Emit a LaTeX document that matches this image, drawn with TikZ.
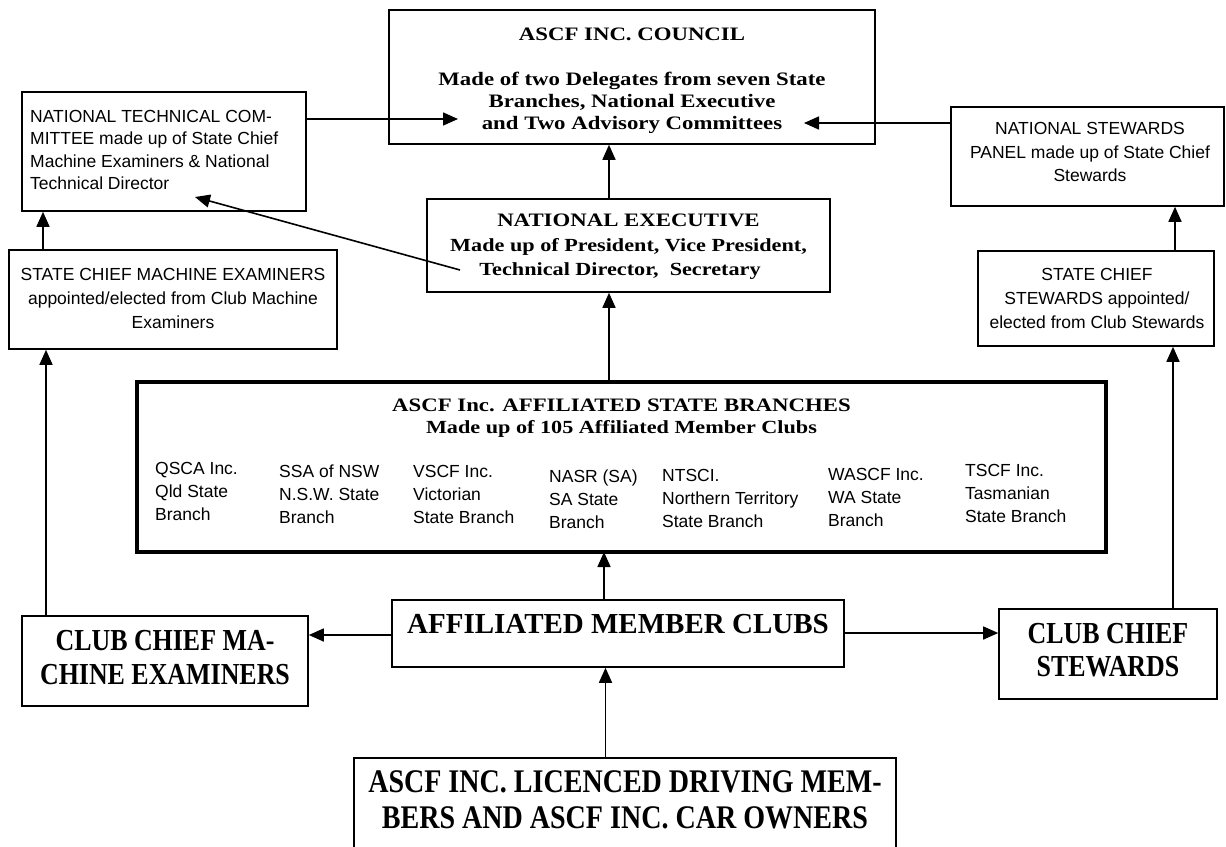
\documentclass[tikz,border=0pt]{standalone}
\usepackage{fontspec}
\setmainfont{Liberation Serif}
\newfontfamily\arialf{Liberation Sans}
\newfontfamily\wideserif{Liberation Serif}[FakeStretch=1.2]
\newfontfamily\condserif{Liberation Serif}[FakeStretch=0.85]
\usetikzlibrary{arrows.meta}
\tikzset{
  box/.style={draw, line width=1.6pt, rectangle, inner sep=0pt},
  thickbox/.style={draw, line width=4pt, rectangle, inner sep=0pt},
  arr/.style={line width=1.6pt, -{Triangle[length=15pt,width=13pt]}},
  sans/.style={inner sep=0pt, font=\arialf\fontsize{17.5}{21}\selectfont},
  ser/.style={inner sep=0pt, font=\wideserif\bfseries\fontsize{19}{23}\selectfont},
  sersm/.style={inner sep=0pt, font=\wideserif\bfseries\fontsize{18.5}{22}\selectfont},
  big/.style={inner sep=0pt, font=\bfseries\fontsize{29}{33}\selectfont},
  cond/.style={inner sep=0pt, font=\condserif\bfseries\fontsize{30.5}{34}\selectfont},
  condbig/.style={inner sep=0pt, font=\condserif\bfseries\fontsize{33}{37}\selectfont}
}
\begin{document}
\begin{tikzpicture}[x=1pt,y=-1pt]
\path[use as bounding box] (0,0) rectangle (1226,846);
\clip (0,0) rectangle (1226,846);

% boxes
\node[box, minimum width=486pt, minimum height=134pt] (council) at (632,77) {};
\node[box, minimum width=284pt, minimum height=119pt] (ntc) at (164,151.5) {};
\node[box, minimum width=273pt, minimum height=99pt] (nsp) at (1087.5,156.5) {};
\node[box, minimum width=403pt, minimum height=93pt] (ne) at (628.5,245.5) {};
\node[box, minimum width=328pt, minimum height=99pt] (scme) at (173,299.5) {};
\node[box, minimum width=236pt, minimum height=95pt] (scs) at (1096,298.5) {};
\node[thickbox, minimum width=969pt, minimum height=170pt] (asb) at (621.5,467) {};
\node[box, minimum width=452pt, minimum height=67pt] (amc) at (618,633.5) {};
\node[box, minimum width=286pt, minimum height=90pt] (ccme) at (165,661) {};
\node[box, minimum width=218pt, minimum height=90pt] (ccs) at (1108,654) {};
\node[box, minimum width=542pt, minimum height=112pt] (lic) at (625,814) {};

% council text
\node[ser, anchor=base] (c1) at (632,40) {ASCF INC. COUNCIL};
\node[ser, anchor=base] (c2) at (632,85) {Made of two Delegates from seven State};
\node[ser, anchor=base] (c3) at (632,107) {Branches, National Executive};
\node[ser, anchor=base] (c4) at (632,129) {and Two Advisory Committees};

% national technical committee
\node[sans, anchor=base west] (t1) at (30,122) {NATIONAL TECHNICAL COM-};
\node[sans, anchor=base west] (t2) at (30,144.5) {MITTEE made up of State Chief};
\node[sans, anchor=base west] (t3) at (30,167) {Machine Examiners \& National};
\node[sans, anchor=base west] (t4) at (30,189.5) {Technical Director};

% national stewards panel
\node[sans, anchor=base] (p1) at (1090,134) {NATIONAL STEWARDS};
\node[sans, anchor=base] (p2) at (1090,158) {PANEL made up of State Chief};
\node[sans, anchor=base] (p3) at (1090,181) {Stewards};

% national executive
\node[ser, anchor=base] (e1) at (628.5,226) {NATIONAL EXECUTIVE};
\node[sersm, anchor=base] (e2) at (628.5,251) {Made up of President, Vice President,};
\node[sersm, anchor=base] (e3) at (620,275) {Technical Director,\ \ Secretary};

% state chief machine examiners
\node[sans, anchor=base] (m1) at (173,280) {STATE CHIEF MACHINE EXAMINERS};
\node[sans, anchor=base] (m2) at (173,304) {appointed/elected from Club Machine};
\node[sans, anchor=base] (m3) at (173,328) {Examiners};

% state chief stewards
\node[sans, anchor=base] (s1) at (1097,280) {STATE CHIEF};
\node[sans, anchor=base] (s2) at (1097,304) {STEWARDS appointed/};
\node[sans, anchor=base] (s3) at (1097,328) {elected from Club Stewards};

% affiliated state branches
\node[ser, anchor=base] (b1) at (621.5,411) {ASCF Inc. AFFILIATED STATE BRANCHES};
\node[sersm, anchor=base] (b2) at (621.5,433) {Made up of 105 Affiliated Member Clubs};

\node[sans, anchor=base west] (q1) at (155,474) {QSCA Inc.};
\node[sans, anchor=base west] (q2) at (155,497) {Qld State};
\node[sans, anchor=base west] (q3) at (155,520) {Branch};
\node[sans, anchor=base west] (n1) at (279,477) {SSA of NSW};
\node[sans, anchor=base west] (n2) at (279,500) {N.S.W. State};
\node[sans, anchor=base west] (n3) at (279,523) {Branch};
\node[sans, anchor=base west] (v1) at (413,477) {VSCF Inc.};
\node[sans, anchor=base west] (v2) at (413,500) {Victorian};
\node[sans, anchor=base west] (v3) at (413,523) {State Branch};
\node[sans, anchor=base west] (a1) at (549,482) {NASR (SA)};
\node[sans, anchor=base west] (a2) at (549,505) {SA State};
\node[sans, anchor=base west] (a3) at (549,528) {Branch};
\node[sans, anchor=base west] (r1) at (662,481) {NTSCI.};
\node[sans, anchor=base west] (r2) at (662,504) {Northern Territory};
\node[sans, anchor=base west] (r3) at (662,527) {State Branch};
\node[sans, anchor=base west] (w1) at (828,480) {WASCF Inc.};
\node[sans, anchor=base west] (w2) at (828,503) {WA State};
\node[sans, anchor=base west] (w3) at (828,526) {Branch};
\node[sans, anchor=base west] (k1) at (965,476) {TSCF Inc.};
\node[sans, anchor=base west] (k2) at (965,499) {Tasmanian};
\node[sans, anchor=base west] (k3) at (965,522) {State Branch};

% affiliated member clubs
\node[big, anchor=base] (am) at (618,633) {AFFILIATED MEMBER CLUBS};

% club chief machine examiners
\node[cond, anchor=base] (x1) at (165,650) {CLUB CHIEF MA-};
\node[cond, anchor=base] (x2) at (165,684) {CHINE EXAMINERS};

% club chief stewards
\node[cond, anchor=base] (y1) at (1108,643) {CLUB CHIEF};
\node[cond, anchor=base] (y2) at (1108,676) {STEWARDS};

% licenced members
\node[condbig, anchor=base] (l1) at (625,792) {ASCF INC. LICENCED DRIVING MEM-};
\node[condbig, anchor=base] (l2) at (625,828) {BERS AND ASCF INC. CAR OWNERS};

% connector guides
\coordinate (tipA) at (458,119);
\coordinate (tipB) at (804,123);
\coordinate (dStart) at (460,270);
\coordinate (dTip) at (195,197);
\coordinate (xNE) at (609,0);
\coordinate (xL1) at (43,0);
\coordinate (xL2) at (46,0);
\coordinate (xR1) at (1175,0);
\coordinate (xR2) at (1173,0);
\coordinate (xM1) at (604,0);
\coordinate (xM2) at (605.5,0);
\coordinate (yL) at (0,635);
\coordinate (yR) at (0,633);

% connectors
\draw[arr] (ntc.east |- tipA) -- (tipA);
\draw[arr] (nsp.west |- tipB) -- (tipB);
\draw[arr] (ne.north -| xNE) -- (council.south -| xNE);
\draw[arr] (dStart) -- (dTip);
\draw[arr] (asb.north -| xNE) -- (ne.south -| xNE);
\draw[arr] (scme.north -| xL1) -- (ntc.south -| xL1);
\draw[arr] (ccme.north -| xL2) -- (scme.south -| xL2);
\draw[arr] (scs.north -| xR1) -- (nsp.south -| xR1);
\draw[arr] (ccs.north -| xR2) -- (scs.south -| xR2);
\draw[arr] (amc.north -| xM1) -- ([yshift=2pt]asb.south -| xM1);
\draw[arr] (lic.north -| xM2) -- (amc.south -| xM2);
\draw[arr] (amc.west |- yL) -- (ccme.east |- yL);
\draw[arr] (amc.east |- yR) -- (ccs.west |- yR);
\end{tikzpicture}
\end{document}
